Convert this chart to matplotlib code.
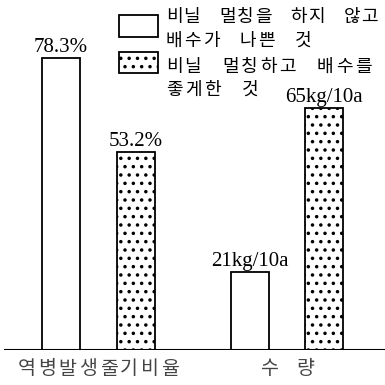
import matplotlib
matplotlib.use('Agg')
import matplotlib.pyplot as plt
from matplotlib.patches import Rectangle

# data
groups = ['역병발생줄기비율', '수량']
bad = [78.3, 21]          # 비닐 멀칭 안 하고 배수 나쁨
good = [53.2, 65]         # 비닐 멀칭하고 배수 좋게
bad_labels = ['78.3%', '21kg/10a']
good_labels = ['53.2%', '65kg/10a']
legend_lines = [['비닐 멀칭을 하지 않고', '배수가 나쁜 것'],
                ['비닐 멀칭하고 배수를', '좋게한 것']]

plt.rcParams['hatch.linewidth'] = 1.3
plt.rcParams['hatch.color'] = 'black'
KR = ['Noto Sans CJK KR', 'DejaVu Sans']
NUM = 'Liberation Serif'

fig = plt.figure(figsize=(3.85, 3.85), dpi=100)
ax = fig.add_axes([0, 35 / 385, 1, 350 / 385])
ax.set_xlim(-0.5225, 1.52)
ax.set_ylim(0, 94)
ax.axis('off')

x = range(len(groups))
off = 0.198
w = 0.203
xb = [i - off for i in x]
xg = [i + off for i in x]
ax.bar(xb, bad, width=w, color='white', edgecolor='black', lw=1.3, zorder=2)
ax.bar(xg, good, width=w, color='white', edgecolor='black', lw=1.3,
       hatch='..', zorder=2)
ax.axhline(0, xmin=5 / 385, xmax=1, color='black', lw=1.5, zorder=3)

for xs, vs, labs in [(xb, bad, bad_labels), (xg, good, good_labels)]:
    for xi, v, t in zip(xs, vs, labs):
        ax.annotate(t, (xi, v), xytext=(0, 6), textcoords='offset pixels',
                    ha='center', va='baseline', fontsize=15, family=NUM)


def spaced(s, xy, xycoords, pitch, size, color='black', start=None, dy=0):
    # draw text char by char with a fixed pitch (pixels)
    n = len(s)
    for i, ch in enumerate(s):
        if ch == ' ':
            continue
        if start is None:
            dx = (i - (n - 1) / 2) * pitch
        else:
            dx = i * pitch
        ax.annotate(ch, xy, xycoords=xycoords, xytext=(dx, dy),
                    textcoords='offset pixels', ha='center', va='center',
                    fontsize=size, family=KR, color=color)


# category labels
spaced(groups[0], (0, 0), ('data', 'axes fraction'), 20.5, 14,
       color='#444444', dy=-19)
spaced(groups[1], (1, 0), ('data', 'axes fraction'), 37, 14,
       color='#444444', dy=-19)

# legend
H = 385
fig.patches.append(Rectangle((119 / H, 1 - 37 / H), 39 / H, 22 / H,
                             transform=fig.transFigure, facecolor='white',
                             edgecolor='black', lw=1.3))
fig.patches.append(Rectangle((119 / H, 1 - 73 / H), 39 / H, 21 / H,
                             transform=fig.transFigure, facecolor='white',
                             edgecolor='black', lw=1.3, hatch='..'))
line_y = [17, 41, 67, 90]
pitches = [17.8, 18.5, 18.9, 19]
k = 0
for pair in legend_lines:
    for s in pair:
        spaced(s, (174, H - line_y[k]), 'figure pixels', pitches[k], 13,
               start=True)
        k += 1

fig.savefig('out.png', dpi=100)
